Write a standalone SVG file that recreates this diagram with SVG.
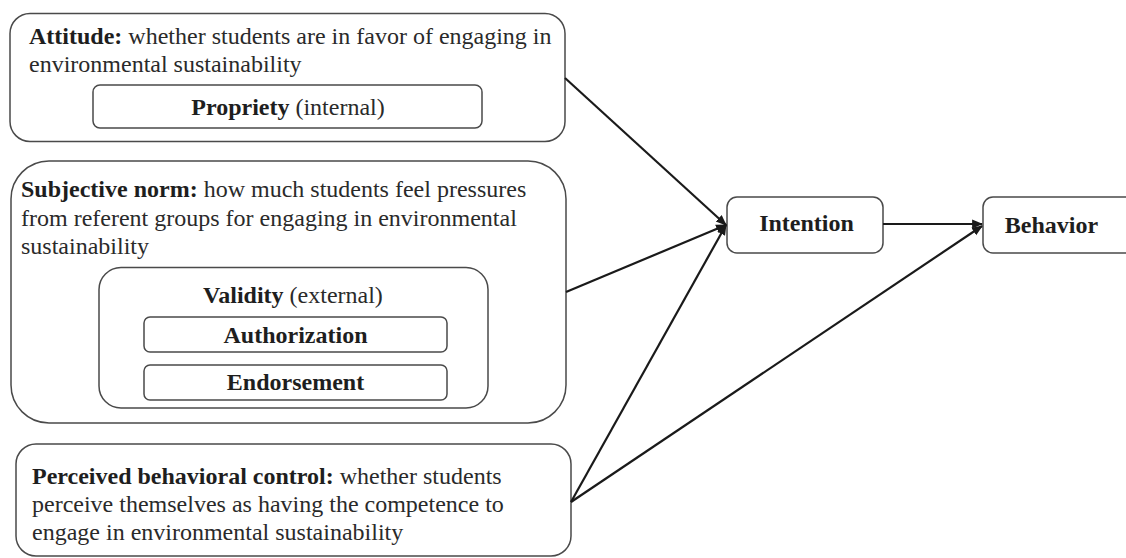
<svg xmlns="http://www.w3.org/2000/svg" width="1126" height="558" viewBox="0 0 1126 558">
<style>
.box{fill:#fff;stroke:#4a4a4a;stroke-width:1.5}
.t{font-family:"Liberation Serif","Times New Roman",serif;font-size:24px;fill:#2a2a2a}
.b{font-weight:bold;fill:#1e1e1e}
.c{text-anchor:middle}
.edge{stroke:#1a1a1a;stroke-width:2.2;fill:none;marker-end:url(#arr)}
</style>
<defs>
<marker id="arr" viewBox="0 0 10 10" refX="9" refY="5" markerWidth="5" markerHeight="5" orient="auto" markerUnits="strokeWidth">
<path d="M0,1 L10,5 L0,9 z" fill="#1a1a1a"/>
</marker>
</defs>
<rect width="1126" height="558" fill="#fff"/>
<g id="attitude">
<rect class="box" x="10" y="13.5" width="555" height="128" rx="20"/>
<text class="t" x="29" y="44"><tspan class="b">Attitude:</tspan> whether students are in favor of engaging in</text>
<text class="t" x="29" y="72">environmental sustainability</text>
<rect class="box" x="93" y="85" width="389" height="43" rx="7"/>
<text class="t c" x="288" y="115"><tspan class="b">Propriety</tspan> (internal)</text>
</g>
<g id="subjective-norm">
<rect class="box" x="11" y="161" width="555" height="262" rx="38"/>
<text class="t" x="21" y="197"><tspan class="b">Subjective norm:</tspan> how much students feel pressures</text>
<text class="t" x="21" y="226">from referent groups for engaging in environmental</text>
<text class="t" x="21" y="254">sustainability</text>
<rect class="box" x="99" y="267.5" width="389" height="140.5" rx="22"/>
<text class="t c" x="293" y="303"><tspan class="b">Validity</tspan> (external)</text>
<rect class="box" x="144" y="317" width="303" height="35" rx="6"/>
<text class="t c b" x="295.5" y="343">Authorization</text>
<rect class="box" x="144" y="365" width="303" height="35" rx="6"/>
<text class="t c b" x="295.5" y="390">Endorsement</text>
</g>
<g id="pbc">
<rect class="box" x="16" y="444" width="555" height="112" rx="20"/>
<text class="t" x="32" y="484"><tspan class="b">Perceived behavioral control:</tspan> whether students</text>
<text class="t" x="32" y="512">perceive themselves as having the competence to</text>
<text class="t" x="32" y="540">engage in environmental sustainability</text>
</g>
<g id="intention">
<rect class="box" x="727" y="197" width="156" height="56" rx="10"/>
<text class="t c b" x="806.5" y="231">Intention</text>
</g>
<g id="behavior">
<rect class="box" x="983" y="197" width="160" height="56" rx="10"/>
<text class="t c b" x="1051.5" y="233">Behavior</text>
</g>
<g id="connectors">
<line class="edge" x1="565" y1="78" x2="726" y2="225"/>
<line class="edge" x1="566" y1="292" x2="726" y2="225"/>
<line class="edge" x1="571" y1="502" x2="726" y2="225"/>
<line class="edge" x1="571" y1="502" x2="982" y2="226"/>
<line class="edge" x1="883" y1="224" x2="982" y2="224"/>
</g>
</svg>
